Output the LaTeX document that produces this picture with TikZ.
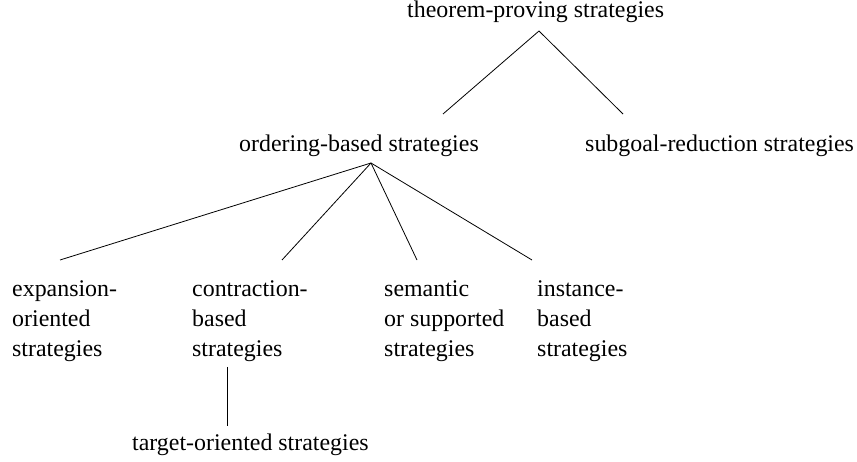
\documentclass[tikz,border=0pt]{standalone}
\usepackage{fontspec}
\setmainfont{Liberation Serif}
\begin{document}
\begin{tikzpicture}[x=1pt,y=-1pt,
  lbl/.style={inner sep=0pt, anchor=base west, font=\fontsize{23.9}{30}\selectfont},
  leaf/.style={lbl, align=left},
  edge/.style={line width=0.8pt}]
\useasboundingbox (0,0) rectangle (857,462);
% nodes (multi-line leaves are placed by the baseline of their last line)
\node[lbl] (root) at (407,18) {theorem-proving strategies};
\node[lbl] (ord) at (239,152) {ordering-based strategies};
\node[lbl] (sub) at (585,152) {subgoal-reduction strategies};
\node[leaf] (exp) at (12,356) {expansion-\\oriented\\strategies};
\node[leaf] (con) at (192,356) {contraction-\\based\\strategies};
\node[leaf] (sem) at (384,356) {semantic\\or supported\\strategies};
\node[leaf] (ins) at (537,356) {instance-\\based\\strategies};
\node[lbl] (tgt) at (132,450) {target-oriented strategies};
% connector ends
\coordinate (rootB) at (539,31);
\coordinate (ordT) at (443,114);
\coordinate (subT) at (623,114);
\coordinate (ordB) at (371,163);
\coordinate (expT) at (60,260);
\coordinate (conT) at (282,260);
\coordinate (semT) at (417,260);
\coordinate (insT) at (532,260);
\coordinate (conB) at (227,367);
\coordinate (tgtT) at (227,426);
% connectors
\draw[edge] (rootB) -- (ordT);
\draw[edge] (rootB) -- (subT);
\draw[edge] (ordB) -- (expT);
\draw[edge] (ordB) -- (conT);
\draw[edge] (ordB) -- (semT);
\draw[edge] (ordB) -- (insT);
\draw[edge] (conB) -- (tgtT);
\end{tikzpicture}
\end{document}
